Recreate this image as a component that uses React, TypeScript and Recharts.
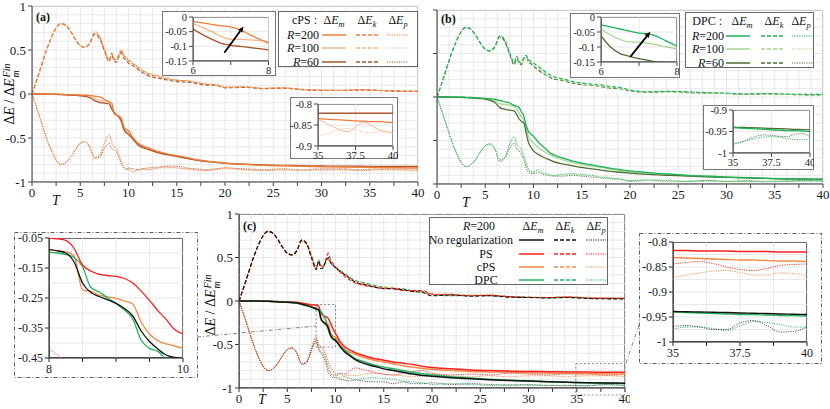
import React from 'react';
import {
  CartesianGrid,
  Line,
  LineChart,
  ReferenceArea,
  ReferenceLine,
  XAxis,
  YAxis,
} from 'recharts';

const SERIF = "'Liberation Serif', 'Times New Roman', Times, serif";

// time axis shared by the three main panels
const tMain = [
  0, 0.5, 1, 1.5, 2, 2.5, 3, 3.5, 4, 4.5, 5, 5.5, 6, 6.5, 7, 7.5, 8, 8.25, 8.5, 8.75, 9, 9.25, 9.5,
  9.75, 10, 10.5, 11, 11.5, 12, 13, 14, 15, 16, 17, 18, 19, 20, 22, 24, 26, 28, 30, 32, 34, 36, 38, 40,
];

// (a) cPS
const aEm200 = [
  0, 0, 0, 0, -0.001, -0.002, -0.004, -0.006, -0.008, -0.01,
  -0.012, -0.014, -0.015, -0.025, -0.034, -0.06, -0.089,
  -0.097, -0.223, -0.24, -0.251, -0.27, -0.37, -0.403, -0.418,
  -0.5, -0.56, -0.59, -0.61,
  -0.65, -0.68, -0.7, -0.72, -0.745, -0.76, -0.775, -0.785,
  -0.8, -0.81, -0.815, -0.82, -0.825, -0.828, -0.831, -0.834, -0.837, -0.84,
];
const aEm100 = [
  0, 0, 0, 0, -0.001, -0.002, -0.004, -0.006, -0.008, -0.01,
  -0.013, -0.017, -0.022, -0.05, -0.076, -0.078, -0.083,
  -0.13, -0.2, -0.23, -0.25, -0.29, -0.38, -0.42, -0.44,
  -0.51, -0.565, -0.6, -0.62,
  -0.66, -0.69, -0.71, -0.73, -0.75, -0.765, -0.778, -0.788,
  -0.803, -0.812, -0.818, -0.823, -0.827, -0.83, -0.833, -0.836, -0.838, -0.84,
];
const aEm60 = [
  0, 0, 0, 0, -0.002, -0.004, -0.007, -0.01, -0.013, -0.016,
  -0.02, -0.028, -0.041, -0.076, -0.097, -0.104, -0.112,
  -0.17, -0.21, -0.24, -0.26, -0.31, -0.4, -0.44, -0.46,
  -0.52, -0.58, -0.61, -0.63,
  -0.665, -0.69, -0.71, -0.73, -0.75, -0.765, -0.775, -0.785,
  -0.797, -0.805, -0.81, -0.815, -0.818, -0.82, -0.821, -0.822, -0.822, -0.822,
];
const aEk200 = [
  0, 0.16, 0.33, 0.5, 0.64, 0.75, 0.8, 0.78, 0.71, 0.62,
  0.55, 0.53, 0.58, 0.69, 0.65, 0.51, 0.38,
  0.46, 0.4, 0.39, 0.45, 0.49, 0.44, 0.41, 0.38,
  0.34, 0.3, 0.26, 0.23,
  0.2, 0.17, 0.155, 0.15, 0.13, 0.11, 0.105, 0.075,
  0.08, 0.065, 0.07, 0.05, 0.045, 0.04, 0.05, 0.04, 0.035, 0.03,
];
const aEk100 = [
  0, 0.16, 0.33, 0.5, 0.64, 0.75, 0.8, 0.78, 0.71, 0.62,
  0.55, 0.53, 0.59, 0.71, 0.66, 0.52, 0.4,
  0.47, 0.41, 0.38, 0.45, 0.5, 0.46, 0.42, 0.39,
  0.35, 0.31, 0.27, 0.24,
  0.21, 0.18, 0.16, 0.15, 0.135, 0.115, 0.11, 0.08,
  0.085, 0.065, 0.07, 0.055, 0.045, 0.045, 0.05, 0.04, 0.035, 0.03,
];
const aEk60 = [
  0, 0.16, 0.33, 0.5, 0.64, 0.75, 0.8, 0.78, 0.71, 0.62,
  0.55, 0.53, 0.58, 0.68, 0.63, 0.49, 0.37,
  0.44, 0.38, 0.36, 0.42, 0.47, 0.41, 0.38, 0.35,
  0.32, 0.28, 0.24, 0.21,
  0.18, 0.16, 0.14, 0.135, 0.12, 0.1, 0.1, 0.07,
  0.075, 0.06, 0.065, 0.05, 0.04, 0.04, 0.045, 0.04, 0.03, 0.03,
];
const aEp200 = [
  0, -0.16, -0.33, -0.5, -0.64, -0.75, -0.8, -0.78, -0.72, -0.63,
  -0.56, -0.54, -0.6, -0.72, -0.7, -0.57, -0.47,
  -0.56, -0.6, -0.62, -0.68, -0.76, -0.82, -0.85, -0.85,
  -0.88, -0.86, -0.85, -0.86,
  -0.84, -0.83, -0.84, -0.85, -0.86, -0.87, -0.86, -0.84,
  -0.86, -0.87, -0.86, -0.87, -0.86, -0.86, -0.87, -0.86, -0.86, -0.87,
];
const aEp100 = [
  0, -0.16, -0.33, -0.5, -0.64, -0.75, -0.8, -0.78, -0.72, -0.63,
  -0.56, -0.54, -0.6, -0.74, -0.7, -0.55, -0.45,
  -0.52, -0.58, -0.63, -0.7, -0.77, -0.83, -0.86, -0.86,
  -0.89, -0.87, -0.86, -0.86,
  -0.85, -0.84, -0.84, -0.86, -0.87, -0.87, -0.86, -0.85,
  -0.86, -0.87, -0.87, -0.86, -0.87, -0.86, -0.87, -0.86, -0.87, -0.87,
];
const aEp60 = [
  0, -0.16, -0.33, -0.5, -0.64, -0.75, -0.8, -0.78, -0.72, -0.63,
  -0.56, -0.54, -0.61, -0.73, -0.72, -0.62, -0.56,
  -0.62, -0.63, -0.66, -0.72, -0.8, -0.84, -0.86, -0.84,
  -0.85, -0.86, -0.85, -0.84,
  -0.83, -0.82, -0.82, -0.84, -0.85, -0.86, -0.85, -0.84,
  -0.85, -0.86, -0.85, -0.86, -0.85, -0.85, -0.86, -0.85, -0.85, -0.85,
];

// (b) DPC
const bEm200 = [
  0, 0, 0, 0, -0.001, -0.002, -0.004, -0.006, -0.009, -0.012,
  -0.015, -0.02, -0.026, -0.04, -0.054, -0.066, -0.097,
  -0.105, -0.12, -0.17, -0.22, -0.33, -0.4, -0.43, -0.45,
  -0.52, -0.57, -0.62, -0.66,
  -0.7, -0.735, -0.76, -0.78, -0.8, -0.82, -0.835, -0.85,
  -0.87, -0.885, -0.9, -0.91, -0.92, -0.928, -0.935, -0.94, -0.944, -0.948,
];
const bEm100 = [
  0, 0, 0, 0, -0.001, -0.003, -0.005, -0.008, -0.011, -0.014,
  -0.018, -0.028, -0.041, -0.075, -0.084, -0.094, -0.107,
  -0.14, -0.18, -0.23, -0.26, -0.36, -0.46, -0.5, -0.53,
  -0.58, -0.62, -0.65, -0.68,
  -0.72, -0.75, -0.775, -0.795, -0.81, -0.83, -0.845, -0.86,
  -0.875, -0.89, -0.9, -0.91, -0.92, -0.928, -0.934, -0.94, -0.944, -0.947,
];
const bEm60 = [
  0, 0, 0, -0.001, -0.002, -0.004, -0.007, -0.01, -0.014, -0.018,
  -0.024, -0.04, -0.063, -0.122, -0.139, -0.151, -0.16,
  -0.2, -0.25, -0.28, -0.3, -0.42, -0.53, -0.58, -0.62,
  -0.66, -0.69, -0.715, -0.74,
  -0.77, -0.79, -0.81, -0.825, -0.84, -0.855, -0.865, -0.875,
  -0.89, -0.9, -0.91, -0.918, -0.925, -0.93, -0.935, -0.94, -0.943, -0.945,
];
const bEk200 = [
  0, 0.16, 0.33, 0.5, 0.64, 0.75, 0.8, 0.78, 0.71, 0.62,
  0.55, 0.53, 0.58, 0.7, 0.66, 0.52, 0.39,
  0.47, 0.41, 0.39, 0.46, 0.48, 0.43, 0.41, 0.39,
  0.35, 0.31, 0.27, 0.24,
  0.21, 0.18, 0.16, 0.15, 0.14, 0.12, 0.11, 0.08,
  0.06, 0.065, 0.06, 0.05, 0.045, 0.035, 0.04, 0.035, 0.03, 0.03,
];
const bEk100 = [
  0, 0.16, 0.33, 0.5, 0.64, 0.75, 0.8, 0.78, 0.71, 0.62,
  0.55, 0.53, 0.58, 0.71, 0.66, 0.52, 0.4,
  0.46, 0.41, 0.38, 0.45, 0.47, 0.42, 0.4, 0.37,
  0.33, 0.29, 0.25, 0.22,
  0.2, 0.17, 0.15, 0.14, 0.13, 0.11, 0.1, 0.075,
  0.06, 0.06, 0.055, 0.045, 0.04, 0.035, 0.04, 0.03, 0.03, 0.025,
];
const bEk60 = [
  0, 0.16, 0.33, 0.5, 0.64, 0.75, 0.8, 0.78, 0.71, 0.62,
  0.55, 0.53, 0.58, 0.69, 0.64, 0.5, 0.37,
  0.44, 0.39, 0.37, 0.44, 0.46, 0.4, 0.38, 0.35,
  0.31, 0.27, 0.24, 0.21,
  0.19, 0.16, 0.14, 0.135, 0.12, 0.1, 0.095, 0.07,
  0.055, 0.06, 0.05, 0.045, 0.04, 0.03, 0.035, 0.03, 0.025, 0.025,
];
const bEp200 = [
  0, -0.16, -0.33, -0.5, -0.64, -0.75, -0.8, -0.78, -0.72, -0.63,
  -0.56, -0.54, -0.6, -0.72, -0.7, -0.55, -0.45,
  -0.53, -0.57, -0.6, -0.67, -0.76, -0.83, -0.86, -0.86,
  -0.84, -0.87, -0.89, -0.9,
  -0.89, -0.88, -0.89, -0.9, -0.92, -0.93, -0.94, -0.96,
  -0.95, -0.96, -0.97, -0.96, -0.97, -0.97, -0.975, -0.97, -0.965, -0.968,
];
const bEp100 = [
  0, -0.16, -0.33, -0.5, -0.64, -0.75, -0.8, -0.78, -0.72, -0.63,
  -0.56, -0.54, -0.6, -0.73, -0.7, -0.56, -0.48,
  -0.55, -0.6, -0.63, -0.69, -0.78, -0.84, -0.87, -0.87,
  -0.86, -0.88, -0.9, -0.9,
  -0.9, -0.89, -0.9, -0.91, -0.93, -0.94, -0.95, -0.96,
  -0.96, -0.97, -0.97, -0.97, -0.97, -0.975, -0.97, -0.97, -0.97, -0.97,
];
const bEp60 = [
  0, -0.16, -0.33, -0.5, -0.64, -0.75, -0.8, -0.78, -0.72, -0.63,
  -0.56, -0.54, -0.6, -0.74, -0.71, -0.6, -0.53,
  -0.6, -0.62, -0.66, -0.72, -0.82, -0.87, -0.88, -0.88,
  -0.87, -0.89, -0.9, -0.91,
  -0.91, -0.9, -0.91, -0.92, -0.93, -0.94, -0.95, -0.97,
  -0.96, -0.97, -0.97, -0.96, -0.97, -0.96, -0.97, -0.965, -0.96, -0.962,
];

// (c) R=200: no regularization and PS (cPS / DPC reuse the R=200 curves of a / b)
const cEmNone = [
  0, 0, 0, 0, -0.001, -0.002, -0.004, -0.006, -0.009, -0.012,
  -0.015, -0.018, -0.022, -0.035, -0.05, -0.07, -0.089,
  -0.1, -0.2, -0.245, -0.268, -0.31, -0.395, -0.44, -0.452,
  -0.53, -0.59, -0.63, -0.67,
  -0.72, -0.75, -0.78, -0.8, -0.82, -0.84, -0.855, -0.865,
  -0.882, -0.895, -0.905, -0.913, -0.92, -0.927, -0.933, -0.939, -0.942, -0.945,
];
const cEmPS = [
  0, 0, 0, 0, -0.001, -0.002, -0.003, -0.005, -0.007, -0.009,
  -0.011, -0.013, -0.016, -0.025, -0.035, -0.042, -0.05,
  -0.058, -0.14, -0.171, -0.178, -0.2, -0.258, -0.322, -0.37,
  -0.47, -0.53, -0.565, -0.59,
  -0.63, -0.66, -0.68, -0.7, -0.715, -0.73, -0.75, -0.765,
  -0.78, -0.793, -0.8, -0.806, -0.81, -0.813, -0.815, -0.817, -0.819, -0.82,
];
const cEkNone = [
  0, 0.16, 0.33, 0.5, 0.64, 0.75, 0.8, 0.78, 0.71, 0.62,
  0.55, 0.53, 0.58, 0.7, 0.66, 0.5, 0.36,
  0.46, 0.37, 0.39, 0.46, 0.5, 0.44, 0.41, 0.38,
  0.34, 0.3, 0.26, 0.22,
  0.19, 0.16, 0.145, 0.14, 0.13, 0.11, 0.1, 0.06,
  0.07, 0.055, 0.06, 0.045, 0.04, 0.035, 0.04, 0.03, 0.025, 0.025,
];
const cEkPS = [
  0, 0.16, 0.33, 0.5, 0.64, 0.75, 0.8, 0.78, 0.71, 0.62,
  0.55, 0.53, 0.58, 0.7, 0.67, 0.52, 0.38,
  0.44, 0.4, 0.4, 0.48, 0.55, 0.47, 0.43, 0.39,
  0.33, 0.28, 0.24, 0.21,
  0.18, 0.16, 0.14, 0.14, 0.12, 0.12, 0.12, 0.08,
  0.07, 0.06, 0.065, 0.05, 0.04, 0.04, 0.045, 0.035, 0.03, 0.03,
];
const cEpNone = [
  0, -0.16, -0.33, -0.5, -0.64, -0.75, -0.8, -0.78, -0.72, -0.63,
  -0.56, -0.54, -0.6, -0.73, -0.71, -0.58, -0.46,
  -0.55, -0.6, -0.64, -0.72, -0.82, -0.86, -0.88, -0.88,
  -0.9, -0.91, -0.92, -0.91,
  -0.92, -0.93, -0.93, -0.95, -0.93, -0.95, -0.95, -0.94,
  -0.96, -0.95, -0.96, -0.97, -0.96, -0.97, -0.97, -0.975, -0.96, -0.97,
];
const cEpPS = [
  0, -0.16, -0.33, -0.5, -0.64, -0.75, -0.8, -0.78, -0.72, -0.63,
  -0.56, -0.54, -0.6, -0.72, -0.7, -0.55, -0.41,
  -0.5, -0.53, -0.55, -0.62, -0.7, -0.76, -0.8, -0.84,
  -0.83, -0.84, -0.8, -0.77,
  -0.79, -0.82, -0.84, -0.85, -0.83, -0.81, -0.8, -0.83,
  -0.85, -0.84, -0.85, -0.83, -0.84, -0.85, -0.84, -0.84, -0.855, -0.844,
];

// insets T in [6, 8]
const tZoom68 = [6, 6.25, 6.5, 6.75, 7, 7.25, 7.5, 7.75, 8];
const za200 = [-0.015, -0.02, -0.025, -0.03, -0.034, -0.044, -0.06, -0.075, -0.089];
const za100 = [-0.022, -0.036, -0.05, -0.066, -0.076, -0.076, -0.078, -0.08, -0.083];
const za60 = [-0.041, -0.06, -0.076, -0.09, -0.097, -0.1, -0.104, -0.108, -0.112];
const zb200 = [-0.026, -0.033, -0.04, -0.047, -0.054, -0.056, -0.066, -0.082, -0.097];
const zb100 = [-0.041, -0.06, -0.075, -0.083, -0.084, -0.088, -0.094, -0.1, -0.107];
const zb60 = [-0.063, -0.1, -0.122, -0.131, -0.139, -0.145, -0.151, -0.155, -0.16];

// insets T in [35, 40]
const tZoomEnd = [35, 35.5, 36, 36.5, 37, 37.5, 38, 38.5, 39, 39.5, 40];
const zaEnd60 = [-0.822, -0.822, -0.822, -0.822, -0.822, -0.822, -0.822, -0.822, -0.822, -0.822, -0.822];
const zaEnd200 = [-0.835, -0.836, -0.837, -0.838, -0.839, -0.84, -0.841, -0.842, -0.842, -0.843, -0.844];
const zaEndEp100 = [-0.836, -0.845, -0.854, -0.862, -0.866, -0.855, -0.843, -0.85, -0.86, -0.866, -0.869];
const zaEndEp200 = [-0.875, -0.872, -0.866, -0.86, -0.858, -0.862, -0.867, -0.868, -0.866, -0.866, -0.868];
const zbEnd60 = [-0.94, -0.9405, -0.941, -0.9415, -0.942, -0.943, -0.9435, -0.944, -0.945, -0.9455, -0.946];
const zbEnd200 = [-0.941, -0.942, -0.943, -0.944, -0.945, -0.946, -0.947, -0.948, -0.948, -0.949, -0.95];
const zbEndEp200 = [-0.977, -0.975, -0.97, -0.966, -0.963, -0.962, -0.963, -0.966, -0.969, -0.969, -0.968];
const zbEndEp60 = [-0.98, -0.975, -0.968, -0.961, -0.958, -0.959, -0.961, -0.962, -0.957, -0.955, -0.962];
const zcEmPS = [-0.817, -0.817, -0.818, -0.818, -0.818, -0.819, -0.819, -0.819, -0.82, -0.82, -0.82];
const zcEmCPS = [-0.831, -0.832, -0.833, -0.834, -0.835, -0.836, -0.836, -0.837, -0.838, -0.838, -0.839];
const zcEpPS = [-0.844, -0.841, -0.839, -0.843, -0.85, -0.855, -0.857, -0.853, -0.847, -0.845, -0.844];
const zcEpCPS = [-0.871, -0.866, -0.862, -0.858, -0.857, -0.861, -0.866, -0.866, -0.862, -0.863, -0.867];
const zcEmNone = [-0.939, -0.9395, -0.94, -0.9405, -0.941, -0.942, -0.9425, -0.943, -0.944, -0.9445, -0.945];
const zcEmDPC = [-0.94, -0.941, -0.942, -0.943, -0.944, -0.945, -0.945, -0.946, -0.947, -0.947, -0.948];
const zcEpNone = [-0.969, -0.967, -0.97, -0.975, -0.975, -0.962, -0.957, -0.967, -0.98, -0.979, -0.97];
const zcEpDPC = [-0.975, -0.97, -0.97, -0.973, -0.977, -0.968, -0.959, -0.961, -0.965, -0.97, -0.97];

// inset T in [8, 10] of panel (c)
const tZoom810 = [8, 8.125, 8.25, 8.375, 8.5, 8.625, 8.75, 8.875, 9, 9.125, 9.25, 9.375, 9.5, 9.625, 9.75, 9.875, 10];
const zlPS = [-0.05, -0.053, -0.058, -0.085, -0.14, -0.16, -0.171, -0.175, -0.178, -0.185, -0.2, -0.227, -0.258, -0.292, -0.322, -0.355, -0.37];
const zlCPS = [-0.089, -0.092, -0.096, -0.11, -0.223, -0.228, -0.24, -0.246, -0.251, -0.26, -0.27, -0.33, -0.37, -0.392, -0.403, -0.41, -0.418];
const zlNone = [-0.089, -0.093, -0.1, -0.13, -0.2, -0.232, -0.245, -0.256, -0.268, -0.285, -0.31, -0.36, -0.395, -0.42, -0.44, -0.448, -0.452];
const zlDPC = [-0.098, -0.1, -0.105, -0.115, -0.145, -0.215, -0.23, -0.25, -0.268, -0.29, -0.32, -0.39, -0.418, -0.428, -0.455, -0.48, -0.5];
const zlEpPS = [-0.42, -0.44, -0.465, -0.49, -0.51, -0.52, -0.53, -0.54, -0.55, -0.58, -0.62, -0.66, -0.7, -0.74, -0.78, -0.8, -0.83];

// arrows in the small insets (T, value)
const arrowA = [{ x: 6.83, y: -0.122 }, { x: 7.34, y: -0.032 }];
const arrowB = [{ x: 6.77, y: -0.133 }, { x: 7.3, y: -0.049 }];

const C200 = '#ee7d3a';
const C100 = '#f6b78c';
const C60 = '#a9552c';
const D200 = '#1fb35a';
const D100 = '#a6d891';
const D60 = '#4e6e34';
const NONE = '#111111';
const PS = '#ff1f1f';
const CPS = '#f08a45';
const DPC = '#22b35e';

type Kind = 'm' | 'k' | 'p';
const DASH: Record<Kind, string | undefined> = { m: undefined, k: '4 2', p: '1.2 1.2' };
const WID: Record<Kind, number> = { m: 1.3, k: 1.1, p: 0.9 };

type LineSpec = { key: string; color: string; kind: Kind; width?: number };

function table(t: number[], cols: Record<string, number[]>) {
  return t.map((T, i) => {
    const row: Record<string, number> = { T };
    for (const k in cols) row[k] = cols[k][i];
    return row;
  });
}

const dataA = table(tMain, {
  em200: aEm200, em100: aEm100, em60: aEm60,
  ek200: aEk200, ek100: aEk100, ek60: aEk60,
  ep200: aEp200, ep100: aEp100, ep60: aEp60,
});
const dataB = table(tMain, {
  em200: bEm200, em100: bEm100, em60: bEm60,
  ek200: bEk200, ek100: bEk100, ek60: bEk60,
  ep200: bEp200, ep100: bEp100, ep60: bEp60,
});
const dataC = table(tMain, {
  emNone: cEmNone, emPS: cEmPS, emCPS: aEm200, emDPC: bEm200,
  ekNone: cEkNone, ekPS: cEkPS, ekCPS: aEk200, ekDPC: bEk200,
  epNone: cEpNone, epPS: cEpPS, epCPS: aEp200, epDPC: bEp200,
});
const dataA68 = table(tZoom68, { em200: za200, em100: za100, em60: za60 });
const dataB68 = table(tZoom68, { em200: zb200, em100: zb100, em60: zb60 });
const dataAEnd = table(tZoomEnd, { em60: zaEnd60, em200: zaEnd200, ep100: zaEndEp100, ep200: zaEndEp200 });
const dataBEnd = table(tZoomEnd, { em60: zbEnd60, em200: zbEnd200, ep200: zbEndEp200, ep60: zbEndEp60 });
const dataCEnd = table(tZoomEnd, {
  emPS: zcEmPS, emCPS: zcEmCPS, epPS: zcEpPS, epCPS: zcEpCPS,
  emNone: zcEmNone, emDPC: zcEmDPC, epNone: zcEpNone, epDPC: zcEpDPC,
});
const dataC810 = table(tZoom810, { emPS: zlPS, emCPS: zlCPS, emNone: zlNone, emDPC: zlDPC, epPS: zlEpPS });

const threeR = (c2: string, c1: string, c6: string): LineSpec[] => [
  { key: 'ep60', color: c6, kind: 'p' },
  { key: 'ep100', color: c1, kind: 'p' },
  { key: 'ep200', color: c2, kind: 'p' },
  { key: 'ek60', color: c6, kind: 'k' },
  { key: 'ek100', color: c1, kind: 'k' },
  { key: 'ek200', color: c2, kind: 'k' },
  { key: 'em100', color: c1, kind: 'm' },
  { key: 'em60', color: c6, kind: 'm' },
  { key: 'em200', color: c2, kind: 'm' },
];

const linesC: LineSpec[] = [
  { key: 'epNone', color: NONE, kind: 'p', width: 0.7 },
  { key: 'epDPC', color: DPC, kind: 'p' },
  { key: 'epCPS', color: CPS, kind: 'p' },
  { key: 'epPS', color: PS, kind: 'p' },
  { key: 'ekDPC', color: DPC, kind: 'k' },
  { key: 'ekCPS', color: CPS, kind: 'k' },
  { key: 'ekPS', color: PS, kind: 'k' },
  { key: 'ekNone', color: NONE, kind: 'k' },
  { key: 'emCPS', color: CPS, kind: 'm', width: 1.5 },
  { key: 'emPS', color: PS, kind: 'm', width: 1.5 },
  { key: 'emDPC', color: DPC, kind: 'm', width: 1.5 },
  { key: 'emNone', color: NONE, kind: 'm', width: 1.5 },
];

const range = (a: number, b: number, s: number) =>
  Array.from({ length: Math.round((b - a) / s) + 1 }, (_, i) => +(a + i * s).toFixed(4));

const xTicksMain = range(0, 40, 2.5);
const yTicksMain = [-1, -0.5, 0, 0.5, 1];
const fmtMainX = (v: number) => (v % 5 === 0 ? String(v) : '');

type PlotProps = {
  left: number; top: number; width: number; height: number;
  margin: { top: number; right: number; left: number; bottom: number };
  yWidth: number; xHeight: number;
  data: Record<string, number>[]; lines: LineSpec[];
  xDomain: [number, number]; yDomain: [number, number];
  xTicks: number[]; yTicks: number[];
  xGrid: number[]; yGrid: number[];
  xFmt?: (v: number) => string; yFmt?: (v: number) => string;
  fontSize: number; frame: string; axis: string; frameWidth?: number;
  children?: React.ReactNode;
};

function Plot(p: PlotProps) {
  const px = p.left + p.margin.left + p.yWidth;
  const py = p.top + p.margin.top;
  const pw = p.width - p.margin.left - p.margin.right - p.yWidth;
  const ph = p.height - p.margin.top - p.margin.bottom - p.xHeight;
  const tick = { fontSize: p.fontSize, fill: '#1a1a1a', fontFamily: SERIF };
  return (
    <>
      <div
        style={{
          position: 'absolute', left: px, top: py, width: pw, height: ph,
          border: `${p.frameWidth ?? 1}px solid ${p.frame}`, boxSizing: 'border-box',
        }}
      />
      <div style={{ position: 'absolute', left: p.left, top: p.top }}>
        <LineChart width={p.width} height={p.height} data={p.data} margin={p.margin}>
          <CartesianGrid stroke="#e2e2e2" strokeWidth={0.8} verticalValues={p.xGrid} horizontalValues={p.yGrid} />
          <XAxis
            type="number" dataKey="T" domain={p.xDomain} ticks={p.xTicks} interval={0}
            allowDataOverflow height={p.xHeight} tick={tick} tickFormatter={p.xFmt}
            tickSize={4} tickMargin={2} stroke={p.axis}
          />
          <YAxis
            type="number" domain={p.yDomain} ticks={p.yTicks} interval={0}
            allowDataOverflow width={p.yWidth} tick={tick} tickFormatter={p.yFmt}
            tickSize={4} tickMargin={2} stroke={p.axis}
          />
          {p.lines.map((l) => (
            <Line
              key={l.key} type="monotone" dataKey={l.key} stroke={l.color}
              strokeWidth={l.width ?? WID[l.kind]} strokeDasharray={DASH[l.kind]}
              dot={false} activeDot={false} isAnimationActive={false}
            />
          ))}
          {p.children}
        </LineChart>
      </div>
    </>
  );
}

const Arrow = (props: any) => {
  const { x1, y1, x2, y2 } = props;
  const a = Math.atan2(y2 - y1, x2 - x1);
  const hx = x2 - 6 * Math.cos(a);
  const hy = y2 - 6 * Math.sin(a);
  const w = 2.6;
  const pts = `${x2},${y2} ${hx - w * Math.sin(a)},${hy + w * Math.cos(a)} ${hx + w * Math.sin(a)},${hy - w * Math.cos(a)}`;
  return (
    <g>
      <line x1={x1} y1={y1} x2={hx} y2={hy} stroke="#000" strokeWidth={1.8} />
      <polygon points={pts} fill="#000" />
    </g>
  );
};

function Txt({ x, y, align = 'left', size = 12, children, style }: {
  x: number; y: number; align?: 'left' | 'center' | 'right'; size?: number;
  children: React.ReactNode; style?: React.CSSProperties;
}) {
  const tx = align === 'left' ? '0' : align === 'center' ? '-50%' : '-100%';
  return (
    <span
      style={{
        position: 'absolute', left: x, top: y, transform: `translate(${tx}, -50%)`,
        whiteSpace: 'nowrap', lineHeight: 1, fontSize: size, fontFamily: SERIF, color: '#111',
        ...style,
      }}
    >
      {children}
    </span>
  );
}

const DE = ({ s }: { s: string }) => (
  <span>
    Δ<i>E</i>
    <i style={{ fontSize: '0.7em', position: 'relative', top: '0.35em' }}>{s}</i>
  </span>
);

function Sample({ x, y, w, color, kind }: { x: number; y: number; w: number; color: string; kind: Kind }) {
  return (
    <svg style={{ position: 'absolute', left: x, top: y - 3 }} width={w} height={6}>
      <line x1={0} y1={3} x2={w} y2={3} stroke={color} strokeWidth={WID[kind] + 0.2} strokeDasharray={DASH[kind]} />
    </svg>
  );
}

function LegendBox({ left, top, width, height, children }: {
  left: number; top: number; width: number; height: number; children: React.ReactNode;
}) {
  return (
    <div
      style={{
        position: 'absolute', left, top, width, height, background: '#fff',
        border: '1px solid #666', boxSizing: 'border-box',
      }}
    >
      {children}
    </div>
  );
}

function RLegend({ left, top, width, title, colors, textRight, cols, sx }: {
  left: number; top: number; width: number; title: string; colors: string[];
  textRight: number; cols: number[]; sx: number[];
}) {
  const rows = ['200', '100', '60'];
  const ys = [22.5, 35.5, 49.5];
  return (
    <LegendBox left={left} top={top} width={width} height={56}>
      <Txt x={textRight - 2} y={8} align="right">{title}</Txt>
      <Txt x={cols[0]} y={8} align="center"><DE s="m" /></Txt>
      <Txt x={cols[1]} y={8} align="center"><DE s="k" /></Txt>
      <Txt x={cols[2]} y={8} align="center"><DE s="p" /></Txt>
      {rows.map((r, i) => (
        <React.Fragment key={r}>
          <Txt x={textRight} y={ys[i]} align="right"><i>R</i>={r}</Txt>
          <Sample x={sx[0]} y={ys[i]} w={24} color={colors[i]} kind="m" />
          <Sample x={sx[1]} y={ys[i]} w={23} color={colors[i]} kind="k" />
          <Sample x={sx[2]} y={ys[i]} w={21} color={colors[i]} kind="p" />
        </React.Fragment>
      ))}
    </LegendBox>
  );
}

function YLabel({ x, y }: { x: number; y: number }) {
  return (
    <div
      style={{
        position: 'absolute', left: x, top: y, transform: 'translate(-50%, -50%) rotate(-90deg)',
        whiteSpace: 'nowrap', fontFamily: SERIF, fontSize: 14, color: '#111', lineHeight: 1,
      }}
    >
      Δ<i>E</i> / Δ<i>E</i>
      <span
        style={{
          display: 'inline-flex', flexDirection: 'column', verticalAlign: 'middle',
          fontSize: 10, lineHeight: '9px', fontStyle: 'italic', marginLeft: 1,
        }}
      >
        <span>Fin</span>
        <span>m</span>
      </span>
    </div>
  );
}

const insetBox = (left: number, top: number, width: number, height: number): React.CSSProperties => ({
  position: 'absolute', left, top, width, height, background: '#fff',
  border: '1px solid #777', boxSizing: 'border-box',
});

export default function App() {
  const gridX = range(0, 40, 1.25);
  const gridY = range(-1, 1, 0.1);
  return (
    <div
      style={{
        position: 'fixed', left: 0, top: 0, width: 830, height: 409, background: '#fff',
        overflow: 'hidden', fontFamily: SERIF,
      }}
    >
      {/* (a) */}
      <Plot
        left={0} top={0} width={426} height={205}
        margin={{ top: 6, right: 8, left: 0, bottom: 0 }} yWidth={32} xHeight={23}
        data={dataA} lines={threeR(C200, C100, C60)}
        xDomain={[0, 40]} yDomain={[-1, 1]} xTicks={xTicksMain} yTicks={yTicksMain}
        xGrid={gridX} yGrid={gridY} xFmt={fmtMainX} fontSize={13} frame="#bbb" axis="#444"
      />
      {/* (b) */}
      <Plot
        left={410} top={0} width={420} height={207}
        margin={{ top: 10, right: 7, left: 0, bottom: 0 }} yWidth={27} xHeight={23}
        data={dataB} lines={threeR(D200, D100, D60)}
        xDomain={[0, 40]} yDomain={[-1, 1]} xTicks={xTicksMain} yTicks={yTicksMain}
        xGrid={gridX} yGrid={gridY} xFmt={fmtMainX} yFmt={() => ''} fontSize={13} frame="#bbb" axis="#444"
      />
      {/* (c) */}
      <Plot
        left={200} top={205} width={430} height={204}
        margin={{ top: 9, right: 5, left: 0, bottom: 0 }} yWidth={39} xHeight={21}
        data={dataC} lines={linesC}
        xDomain={[0, 40]} yDomain={[-1, 1]} xTicks={xTicksMain} yTicks={yTicksMain}
        xGrid={gridX} yGrid={gridY} xFmt={fmtMainX} fontSize={13} frame="#555" axis="#333"
      >
        <ReferenceArea x1={8} x2={10} y1={-0.53} y2={-0.04} fillOpacity={0} stroke="#888" strokeDasharray="2 2" ifOverflow="visible" />
        <ReferenceArea x1={34.9} x2={40} y1={-1.08} y2={-0.72} fillOpacity={0} stroke="#888" strokeDasharray="2 2" ifOverflow="visible" />
      </Plot>

      <YLabel x={11} y={94} />
      <YLabel x={212} y={305} />
      <Txt x={36} y={17} style={{ fontWeight: 'bold' }}>(a)</Txt>
      <Txt x={441} y={19} style={{ fontWeight: 'bold' }}>(b)</Txt>
      <Txt x={243} y={226} style={{ fontWeight: 'bold' }}>(c)</Txt>
      <Txt x={52} y={201} size={14} style={{ fontStyle: 'italic' }}>T</Txt>
      <Txt x={462} y={203} size={14} style={{ fontStyle: 'italic' }}>T</Txt>
      <Txt x={258} y={400} size={14} style={{ fontStyle: 'italic' }}>T</Txt>

      {/* (a) insets */}
      <div style={insetBox(162, 11, 114, 65)} />
      <Plot
        left={162} top={11} width={114} height={65}
        margin={{ top: 6, right: 7.5, left: 0, bottom: 0 }} yWidth={31} xHeight={15}
        data={dataA68}
        lines={[
          { key: 'em60', color: C60, kind: 'm' },
          { key: 'em100', color: C100, kind: 'm' },
          { key: 'em200', color: C200, kind: 'm' },
        ]}
        xDomain={[6, 8]} yDomain={[-0.15, 0]} xTicks={[6, 7, 8]} yTicks={[-0.15, -0.1, -0.05, 0]}
        xGrid={[6, 7, 8]} yGrid={[-0.15, -0.1, -0.05, 0]} xFmt={(v) => (v === 7 ? '' : String(v))}
        fontSize={10.5} frame="#666" axis="#444"
      >
        <ReferenceLine segment={arrowA} shape={Arrow} ifOverflow="visible" />
      </Plot>
      <RLegend
        left={278} top={11} width={140} title="cPS :" colors={[C200, C100, C60]}
        textRight={40} cols={[55, 88, 119]} sx={[43, 77, 108]}
      />
      <div style={insetBox(290, 97, 108, 62)} />
      <Plot
        left={290} top={97} width={108} height={66}
        margin={{ top: 7, right: 5, left: 0, bottom: 0 }} yWidth={28} xHeight={17}
        data={dataAEnd}
        lines={[
          { key: 'ep200', color: C100, kind: 'p' },
          { key: 'ep100', color: C100, kind: 'm', width: 1 },
          { key: 'em60', color: C60, kind: 'm' },
          { key: 'em200', color: C200, kind: 'm' },
        ]}
        xDomain={[35, 40]} yDomain={[-0.9, -0.8]} xTicks={[35, 37.5, 40]} yTicks={[-0.9, -0.85, -0.8]}
        xGrid={[35, 37.5, 40]} yGrid={[-0.9, -0.85, -0.8]} fontSize={10.5} frame="#666" axis="#444"
      />

      {/* (b) insets */}
      <div style={insetBox(570, 13, 110, 65)} />
      <Plot
        left={570} top={13} width={110} height={65}
        margin={{ top: 4, right: 3, left: 0, bottom: 0 }} yWidth={31} xHeight={16}
        data={dataB68}
        lines={[
          { key: 'em60', color: D60, kind: 'm' },
          { key: 'em100', color: D100, kind: 'm' },
          { key: 'em200', color: D200, kind: 'm' },
        ]}
        xDomain={[6, 8]} yDomain={[-0.15, 0]} xTicks={[6, 7, 8]} yTicks={[-0.15, -0.1, -0.05, 0]}
        xGrid={[6, 7, 8]} yGrid={[-0.15, -0.1, -0.05, 0]} xFmt={(v) => (v === 7 ? '' : String(v))}
        fontSize={10.5} frame="#666" axis="#444"
      >
        <ReferenceLine segment={arrowB} shape={Arrow} ifOverflow="visible" />
      </Plot>
      <RLegend
        left={685} top={12} width={129} title="DPC :" colors={[D200, D100, D60]}
        textRight={38} cols={[56, 88, 115]} sx={[40, 75, 106]}
      />
      <div style={insetBox(703, 105, 111, 65)} />
      <Plot
        left={703} top={105} width={111} height={67}
        margin={{ top: 5, right: 4, left: 0, bottom: 0 }} yWidth={30} xHeight={19}
        data={dataBEnd}
        lines={[
          { key: 'ep60', color: D60, kind: 'p' },
          { key: 'ep200', color: D200, kind: 'p' },
          { key: 'em60', color: D60, kind: 'm' },
          { key: 'em200', color: D200, kind: 'm' },
        ]}
        xDomain={[35, 40]} yDomain={[-1, -0.9]} xTicks={[35, 37.5, 40]} yTicks={[-1, -0.95, -0.9]}
        xGrid={[35, 37.5, 40]} yGrid={[-1, -0.95, -0.9]} fontSize={10.5} frame="#666" axis="#444"
      />

      {/* (c) legend */}
      <LegendBox left={429} top={217} width={179} height={68}>
        <Txt x={49} y={8} align="center"><i>R</i>=200</Txt>
        <Txt x={103} y={8} align="center"><DE s="m" /></Txt>
        <Txt x={135} y={8} align="center"><DE s="k" /></Txt>
        <Txt x={166} y={8} align="center"><DE s="p" /></Txt>
        {[
          ['No regularization', NONE],
          ['PS', PS],
          ['cPS', CPS],
          ['DPC', DPC],
        ].map(([name, col], i) => {
          const y = [22, 35.5, 49, 62][i];
          return (
            <React.Fragment key={name}>
              <Txt x={name === 'No regularization' ? 83 : 56} y={y} align={name === 'No regularization' ? 'right' : 'center'}>{name}</Txt>
              <Sample x={89} y={y} w={25} color={col} kind="m" />
              <Sample x={124} y={y} w={22} color={col} kind="k" />
              <Sample x={156} y={y} w={20} color={col} kind="p" />
            </React.Fragment>
          );
        })}
      </LegendBox>

      {/* (c) zoom insets */}
      <Plot
        left={14} top={232} width={183} height={146}
        margin={{ top: 6, right: 14, left: 0, bottom: 0 }} yWidth={35} xHeight={20}
        data={dataC810}
        lines={[
          { key: 'epPS', color: '#ff9a9a', kind: 'm', width: 1 },
          { key: 'emCPS', color: CPS, kind: 'm' },
          { key: 'emDPC', color: DPC, kind: 'm' },
          { key: 'emNone', color: NONE, kind: 'm' },
          { key: 'emPS', color: PS, kind: 'm' },
        ]}
        xDomain={[8, 10]} yDomain={[-0.45, -0.05]} xTicks={[8, 8.5, 9, 9.5, 10]}
        yTicks={[-0.45, -0.35, -0.25, -0.15, -0.05]}
        xGrid={[8, 8.5, 9, 9.5, 10]} yGrid={range(-0.45, -0.05, 0.05)}
        xFmt={(v) => (v === 8 || v === 10 ? String(v) : '')}
        fontSize={12} frame="#222" axis="#222" frameWidth={1.5}
      />
      <Plot
        left={639} top={233} width={183} height={130}
        margin={{ top: 9, right: 15, left: 0, bottom: 0 }} yWidth={34} xHeight={21}
        data={dataCEnd}
        lines={[
          { key: 'epCPS', color: CPS, kind: 'p' },
          { key: 'epPS', color: PS, kind: 'p' },
          { key: 'epDPC', color: DPC, kind: 'p' },
          { key: 'epNone', color: NONE, kind: 'p', width: 0.7 },
          { key: 'emCPS', color: CPS, kind: 'm' },
          { key: 'emPS', color: PS, kind: 'm' },
          { key: 'emDPC', color: DPC, kind: 'm' },
          { key: 'emNone', color: NONE, kind: 'm' },
        ]}
        xDomain={[35, 40]} yDomain={[-1, -0.8]} xTicks={[35, 36.25, 37.5, 38.75, 40]}
        yTicks={[-1, -0.95, -0.9, -0.85, -0.8]}
        xGrid={[35, 36.25, 37.5, 38.75, 40]} yGrid={range(-1, -0.8, 0.025)}
        xFmt={(v) => (v === 35 || v === 37.5 || v === 40 ? String(v) : '')}
        fontSize={12} frame="#222" axis="#222" frameWidth={1.5}
      />

      <svg style={{ position: 'absolute', left: 0, top: 0, pointerEvents: 'none' }} width={830} height={409}>
        <rect x={14.5} y={232.5} width={183} height={145} fill="none" stroke="#333" strokeWidth={0.8} strokeDasharray="4 2 1 2" />
        <rect x={639.5} y={233.5} width={182} height={130} fill="none" stroke="#333" strokeWidth={0.8} strokeDasharray="4 2 1 2" />
        <line x1={197} y1={337} x2={316} y2={326} stroke="#666" strokeWidth={0.8} strokeDasharray="4 2 1 2" />
        <line x1={626} y1={363} x2={639} y2={325} stroke="#666" strokeWidth={0.8} strokeDasharray="4 2 1 2" />
      </svg>
    </div>
  );
}
